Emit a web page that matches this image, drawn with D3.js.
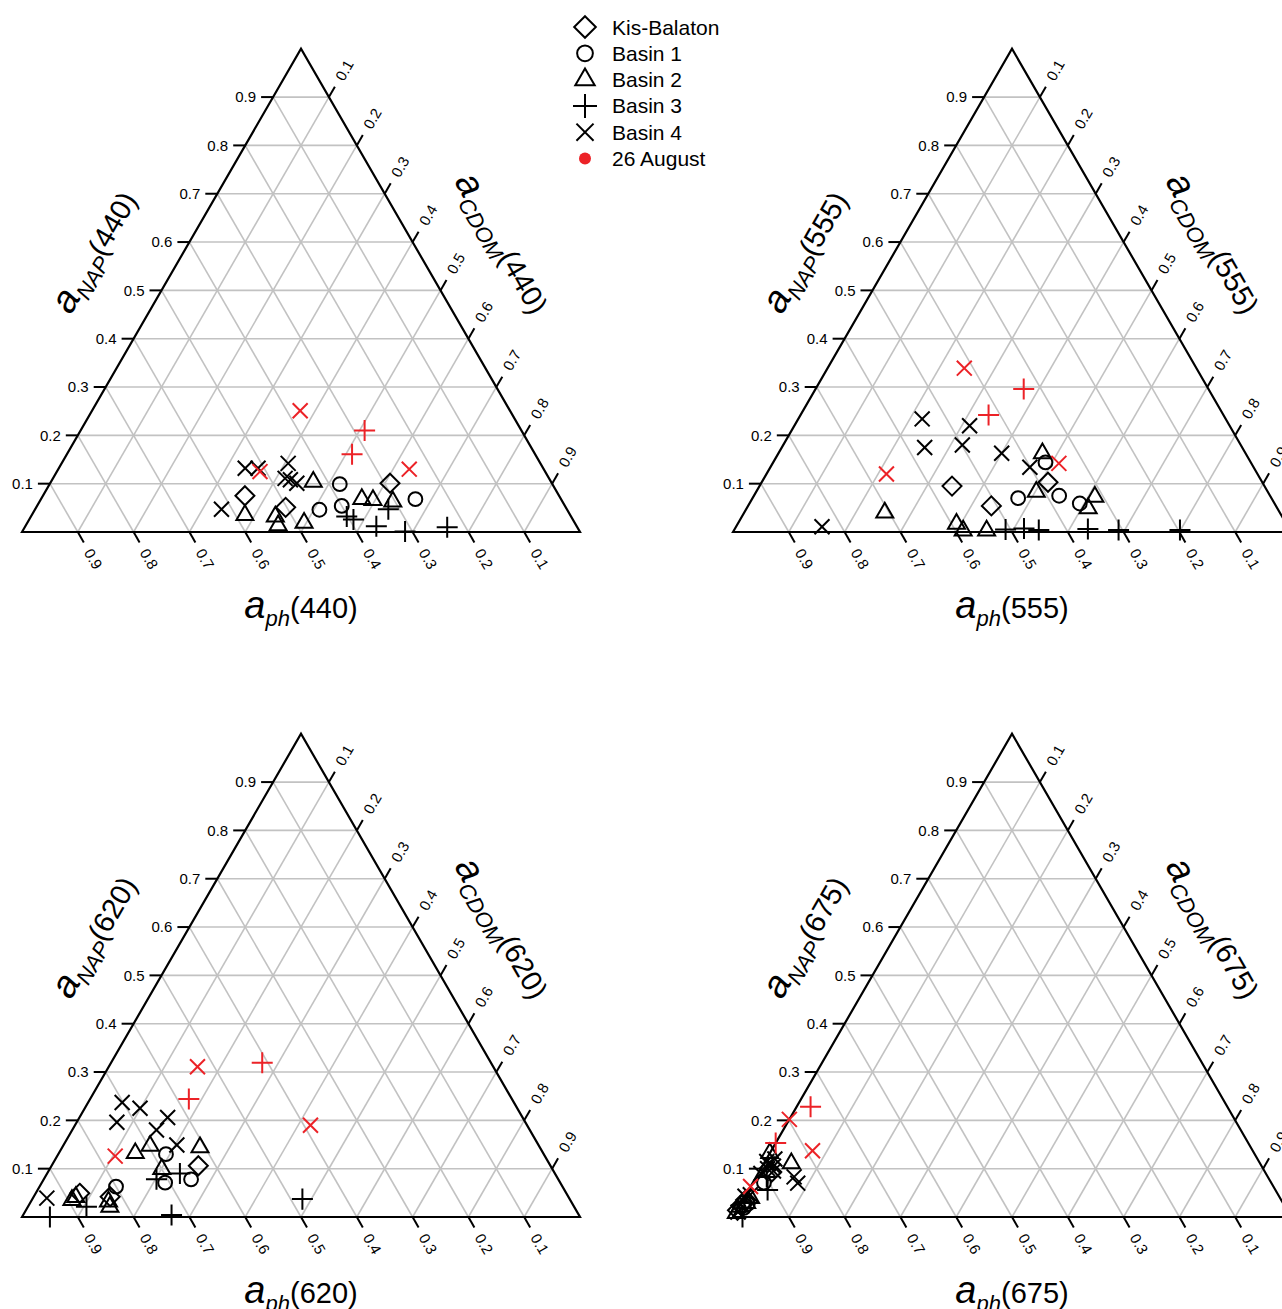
<!DOCTYPE html>
<html>
<head>
<meta charset="utf-8">
<script src="https://cdn.jsdelivr.net/npm/d3@7"></script>
<style>
  html, body { margin: 0; padding: 0; background: #fff; }
  svg { display: block; font-family: "Liberation Sans", Arial, Helvetica, sans-serif; }
</style>
</head>
<body>
<svg id="chart" width="1282" height="1309"></svg>
<script>
// Absorption budget of Lake Balaton samples: fractions of total non-water absorption
// attributed to phytoplankton (a_ph), non-algal particles (a_NAP) and CDOM (a_CDOM).
const sites = ["Kis-Balaton", "Basin 1", "Basin 2", "Basin 3", "Basin 4"];
const wavelengths = [440, 555, 620, 675];
const tickValues = [0.1, 0.2, 0.3, 0.4, 0.5, 0.6, 0.7, 0.8, 0.9];
const legendLabels = ["Kis-Balaton", "Basin 1", "Basin 2", "Basin 3", "Basin 4", "26 August"];

// columns: site, NAP fraction, CDOM fraction, sampled on 26 August (1) or not (0)
// the phytoplankton fraction is the remainder, 1 - NAP - CDOM
const frac440 = [
  ["Basin 4", 0.047, 0.334, 0], ["Basin 4", 0.132, 0.334, 0], ["Basin 4", 0.132, 0.357, 0],
  ["Basin 4", 0.142, 0.406, 0], ["Basin 4", 0.111, 0.416, 0], ["Basin 4", 0.108, 0.427, 0],
  ["Basin 4", 0.101, 0.442, 0],
  ["Basin 1", 0.099, 0.520, 0], ["Basin 1", 0.046, 0.510, 0], ["Basin 1", 0.054, 0.546, 0],
  ["Basin 1", 0.068, 0.671, 0],
  ["Basin 2", 0.104, 0.470, 0], ["Basin 2", 0.035, 0.382, 0], ["Basin 2", 0.032, 0.438, 0],
  ["Basin 2", 0.014, 0.452, 0], ["Basin 2", 0.019, 0.496, 0], ["Basin 2", 0.068, 0.575, 0],
  ["Basin 2", 0.066, 0.596, 0], ["Basin 2", 0.063, 0.633, 0],
  ["Kis-Balaton", 0.075, 0.362, 0], ["Kis-Balaton", 0.051, 0.447, 0], ["Kis-Balaton", 0.101, 0.609, 0],
  ["Basin 3", 0.032, 0.566, 0], ["Basin 3", 0.026, 0.581, 0], ["Basin 3", 0.012, 0.629, 0],
  ["Basin 3", 0.001, 0.686, 0], ["Basin 3", 0.010, 0.757, 0], ["Basin 3", 0.047, 0.633, 0],
  ["Basin 4", 0.251, 0.373, 1], ["Basin 4", 0.125, 0.364, 1], ["Basin 4", 0.130, 0.629, 1],
  ["Basin 3", 0.210, 0.509, 1], ["Basin 3", 0.161, 0.511, 1]
];

const frac555 = [
  ["Basin 4", 0.234, 0.222, 0], ["Basin 4", 0.220, 0.314, 0], ["Basin 4", 0.175, 0.256, 0],
  ["Basin 4", 0.180, 0.321, 0], ["Basin 4", 0.163, 0.400, 0], ["Basin 4", 0.134, 0.465, 0],
  ["Basin 4", 0.011, 0.154, 0],
  ["Basin 2", 0.163, 0.473, 0], ["Basin 2", 0.083, 0.502, 0], ["Basin 2", 0.073, 0.612, 0],
  ["Basin 2", 0.049, 0.612, 0], ["Basin 2", 0.040, 0.252, 0], ["Basin 2", 0.017, 0.392, 0],
  ["Basin 2", 0.003, 0.411, 0], ["Basin 2", 0.003, 0.453, 0],
  ["Basin 1", 0.144, 0.488, 0], ["Basin 1", 0.070, 0.476, 0], ["Basin 1", 0.075, 0.547, 0],
  ["Basin 1", 0.059, 0.592, 0],
  ["Kis-Balaton", 0.095, 0.345, 0], ["Kis-Balaton", 0.103, 0.513, 0], ["Kis-Balaton", 0.054, 0.436, 0],
  ["Basin 3", 0.005, 0.486, 0], ["Basin 3", 0.007, 0.518, 0], ["Basin 3", 0.004, 0.546, 0],
  ["Basin 3", 0.006, 0.633, 0], ["Basin 3", 0.004, 0.689, 0], ["Basin 3", 0.004, 0.799, 0],
  ["Basin 4", 0.339, 0.245, 1], ["Basin 4", 0.142, 0.513, 1], ["Basin 4", 0.120, 0.215, 1],
  ["Basin 3", 0.296, 0.373, 1], ["Basin 3", 0.242, 0.337, 1]
];

const frac620 = [
  ["Basin 4", 0.237, 0.061, 0], ["Basin 4", 0.225, 0.099, 0], ["Basin 4", 0.196, 0.072, 0],
  ["Basin 4", 0.206, 0.158, 0], ["Basin 4", 0.180, 0.151, 0], ["Basin 4", 0.149, 0.203, 0],
  ["Basin 4", 0.039, 0.025, 0],
  ["Basin 2", 0.132, 0.137, 0], ["Basin 2", 0.147, 0.156, 0], ["Basin 2", 0.144, 0.247, 0],
  ["Basin 2", 0.099, 0.201, 0], ["Basin 2", 0.035, 0.072, 0], ["Basin 2", 0.041, 0.076, 0],
  ["Basin 2", 0.032, 0.139, 0], ["Basin 2", 0.021, 0.147, 0],
  ["Basin 1", 0.130, 0.193, 0], ["Basin 1", 0.078, 0.264, 0], ["Basin 1", 0.071, 0.221, 0],
  ["Basin 1", 0.063, 0.137, 0],
  ["Kis-Balaton", 0.106, 0.263, 0], ["Kis-Balaton", 0.049, 0.079, 0], ["Kis-Balaton", 0.042, 0.137, 0],
  ["Basin 3", 0.078, 0.202, 0], ["Basin 3", 0.090, 0.238, 0], ["Basin 3", 0.000, 0.050, 0],
  ["Basin 3", 0.021, 0.105, 0], ["Basin 3", 0.004, 0.266, 0], ["Basin 3", 0.037, 0.484, 0],
  ["Basin 4", 0.311, 0.159, 1], ["Basin 4", 0.190, 0.422, 1], ["Basin 4", 0.126, 0.104, 1],
  ["Basin 3", 0.319, 0.271, 1], ["Basin 3", 0.244, 0.177, 1]
];

const frac675 = [
  ["Basin 4", 0.090, 0.005, 0], ["Basin 4", 0.100, 0.012, 0], ["Basin 4", 0.110, 0.008, 0],
  ["Basin 4", 0.120, 0.015, 0], ["Basin 4", 0.105, 0.020, 0], ["Basin 4", 0.095, 0.025, 0],
  ["Basin 4", 0.115, 0.003, 0], ["Basin 4", 0.083, 0.068, 0], ["Basin 4", 0.070, 0.081, 0],
  ["Basin 4", 0.010, 0.004, 0], ["Basin 4", 0.043, 0.000, 0], ["Basin 4", 0.046, 0.008, 0],
  ["Basin 2", 0.111, 0.049, 0], ["Basin 2", 0.132, 0.000, 0], ["Basin 2", 0.021, 0.002, 0],
  ["Basin 2", 0.029, 0.010, 0], ["Basin 2", 0.039, 0.012, 0], ["Basin 2", 0.008, 0.002, 0],
  ["Basin 1", 0.071, 0.020, 0], ["Basin 1", 0.019, 0.010, 0], ["Basin 1", 0.027, 0.013, 0],
  ["Kis-Balaton", 0.093, 0.023, 0], ["Kis-Balaton", 0.025, 0.003, 0], ["Kis-Balaton", 0.035, 0.005, 0],
  ["Kis-Balaton", 0.014, 0.001, 0],
  ["Basin 3", 0.056, 0.034, 0], ["Basin 3", 0.083, 0.019, 0], ["Basin 3", 0.000, 0.017, 0],
  ["Basin 4", 0.202, 0.000, 1], ["Basin 4", 0.137, 0.074, 1], ["Basin 4", 0.063, 0.000, 1],
  ["Basin 3", 0.228, 0.025, 1], ["Basin 3", 0.153, 0.000, 1]
];

const panelData = [frac440, frac555, frac620, frac675];

// ---- layout ----
const side = 558;
const height = side * Math.sqrt(3) / 2;
const panelOrigins = [[22, 532], [733, 532], [22, 1217], [733, 1217]]; // lower-left vertex of each triangle
const black = "#000";
const red = "#ec2227";
const gridColor = "#c2c2c2";

// ternary -> cartesian through linear scales: horizontal along the base, vertical up the height
const xScale = d3.scaleLinear().domain([0, 1]).range([0, side]);
const yScale = d3.scaleLinear().domain([0, 1]).range([0, -height]);
const pos = (nap, cdom) => [xScale(cdom + nap / 2), yScale(nap)];

const symbolType = {
  "Kis-Balaton": [d3.symbolDiamond2, 230],
  "Basin 1": [d3.symbolCircle, 150],
  "Basin 2": [d3.symbolTriangle2, 207],
  "Basin 3": [d3.symbolPlus, 146],
  "Basin 4": [d3.symbolX, 148]
};

const svg = d3.select("#chart");
const line = d3.line();

function axisTitle(g, x, y, angle, sub, wl) {
  const t = g.append("text")
    .attr("transform", `translate(${x},${y}) rotate(${angle})`)
    .attr("text-anchor", "middle")
    .attr("y", 10)
    .attr("fill", black);
  t.append("tspan").attr("font-size", 38).attr("font-style", "italic").text("a");
  t.append("tspan").attr("font-size", 22).attr("font-style", "italic").attr("dy", 8).text(sub);
  t.append("tspan").attr("font-size", 29).attr("dy", -8).text(`(${wl})`);
}

panelOrigins.forEach(([ox, oy], i) => {
  const g = svg.append("g").attr("transform", `translate(${ox},${oy})`);
  const wl = wavelengths[i];

  // grid lines at each tick value for the three components
  const grid = g.append("g").attr("stroke", gridColor).attr("stroke-width", 1.6).attr("fill", "none");
  tickValues.forEach(v => {
    grid.append("path").attr("d", line([pos(v, 0), pos(v, 1 - v)]));      // constant NAP
    grid.append("path").attr("d", line([pos(0, v), pos(1 - v, v)]));      // constant CDOM
    grid.append("path").attr("d", line([pos(0, 1 - v), pos(1 - v, 0)])); // constant phytoplankton
  });

  // triangle outline
  g.append("path")
    .attr("d", line([pos(0, 0), pos(1, 0), pos(0, 1)]) + "Z")
    .attr("fill", "none").attr("stroke", black).attr("stroke-width", 2.2)
    .attr("stroke-linejoin", "miter");

  const tickLen = 12, labelDist = 31;
  const ax = g.append("g").attr("stroke", black).attr("stroke-width", 2);
  const lab = g.append("g").attr("font-size", 15).attr("fill", black);
  const c60 = 0.5, s60 = Math.sqrt(3) / 2;

  tickValues.forEach(v => {
    // left axis: a_NAP
    let [x, y] = pos(v, 0);
    ax.append("line").attr("x1", x).attr("y1", y).attr("x2", x - tickLen).attr("y2", y);
    lab.append("text").attr("x", x - tickLen - 5).attr("y", y).attr("dy", "0.35em")
      .attr("text-anchor", "end").text(v.toFixed(1));

    // right axis: a_CDOM
    [x, y] = pos(1 - v, v);
    ax.append("line").attr("x1", x).attr("y1", y)
      .attr("x2", x + tickLen * c60).attr("y2", y - tickLen * s60);
    lab.append("text")
      .attr("transform", `translate(${x + labelDist * c60},${y - labelDist * s60}) rotate(-60)`)
      .attr("text-anchor", "middle").attr("dy", "0.35em").text(v.toFixed(1));

    // bottom axis: a_ph
    [x, y] = pos(0, 1 - v);
    ax.append("line").attr("x1", x).attr("y1", y)
      .attr("x2", x + tickLen * c60).attr("y2", y + tickLen * s60);
    lab.append("text")
      .attr("transform", `translate(${x + labelDist * c60},${y + labelDist * s60}) rotate(60)`)
      .attr("text-anchor", "middle").attr("dy", "0.35em").text(v.toFixed(1));
  });

  // axis titles
  const d = 76;
  const [lmx, lmy] = pos(0.5, 0);
  axisTitle(g, lmx - d * s60, lmy - d * c60, -60, "NAP", wl);
  const [rmx, rmy] = pos(0.5, 0.5);
  axisTitle(g, rmx + d * s60 - 10 * c60, rmy - d * c60 - 10 * s60, 60, "CDOM", wl);
  const [bmx, bmy] = pos(0, 0.5);
  axisTitle(g, bmx, bmy + d, 0, "ph", wl);

  // sample points: regular samples first, 26 August on top
  const data = panelData[i].slice().sort((a, b) => a[3] - b[3]);
  g.append("g").selectAll("path.pt").data(data).join("path")
    .attr("class", "pt")
    .attr("transform", r => { const [x, y] = pos(r[1], r[2]); return `translate(${x},${y})`; })
    .attr("d", r => d3.symbol(symbolType[r[0]][0], symbolType[r[0]][1])())
    .attr("fill", "none")
    .attr("stroke", r => r[3] ? red : black)
    .attr("stroke-width", 2);
});

// legend
const legend = svg.append("g").attr("transform", "translate(585,27)");
legendLabels.forEach((name, k) => {
  const row = legend.append("g").attr("transform", `translate(0,${k * 26.3})`);
  if (symbolType[name]) {
    row.append("path")
      .attr("d", d3.symbol(symbolType[name][0], symbolType[name][1] * 1.3)())
      .attr("fill", "none").attr("stroke", black).attr("stroke-width", 2);
  } else {
    row.append("circle").attr("r", 6).attr("fill", red);
  }
  row.append("text").attr("x", 27).attr("dy", "0.36em")
    .attr("font-size", 21).attr("fill", black).text(name);
});
</script>
</body>
</html>
